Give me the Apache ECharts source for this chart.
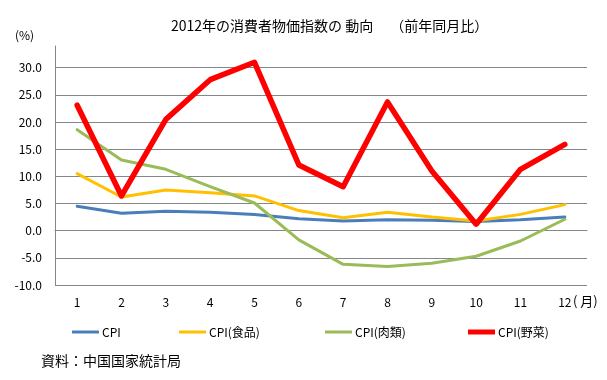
<!DOCTYPE html>
<html>
<head>
<meta charset="utf-8">
<script src="https://cdn.jsdelivr.net/npm/echarts@6/dist/echarts.min.js"></script>
<style>
html,body{margin:0;padding:0;background:#fff;}
#chart{width:607px;height:380px;}
</style>
</head>
<body>
<div id="chart"></div>
<script>
const months = ['1','2','3','4','5','6','7','8','9','10','11','12'];
const cpi      = [4.5, 3.2, 3.6, 3.4, 3.0, 2.2, 1.8, 2.0, 1.9, 1.7, 2.0, 2.5];
const cpiFood  = [10.5, 6.2, 7.5, 7.0, 6.4, 3.7, 2.4, 3.4, 2.5, 1.8, 3.0, 4.8];
const cpiMeat  = [18.6, 13.0, 11.3, 8.1, 5.1, -1.7, -6.2, -6.6, -6.0, -4.7, -1.9, 2.1];
const cpiVeg   = [23.1, 6.4, 20.5, 27.8, 31.0, 12.1, 8.1, 23.7, 11.0, 1.2, 11.3, 15.9];
const seriesNames = ['CPI', 'CPI(食品)', 'CPI(肉類)', 'CPI(野菜)'];
const yTicks = [-10, -5, 0, 5, 10, 15, 20, 25, 30];

const font = '"Noto Sans CJK JP", "Noto Sans", sans-serif';
const colors = ['#4a7ebb', '#ffc000', '#9bbb59', '#ff0000'];
const widths = [3, 3, 3, 5.5];
const dataSets = [cpi, cpiFood, cpiMeat, cpiVeg];
const legendLefts = [67, 174, 320, 463];

const chart = echarts.init(document.getElementById('chart'), null, {renderer: 'canvas'});
chart.setOption({
  animation: false,
  backgroundColor: '#fff',
  title: {
    text: '2012年の消費者物価指数の 動向　 （前年同月比）',
    left: 166, top: 14,
    textStyle: {fontFamily: font, fontSize: 14, fontWeight: 'normal', color: '#000'}
  },
  graphic: [
    {type: 'text', left: 15, top: 29, style: {text: '(%)', font: '12px ' + font, fill: '#000'}},
    {type: 'text', left: 573, top: 295, style: {text: '( 月)', font: '13px ' + font, fill: '#000'}},
    {type: 'text', left: 41, top: 354, style: {text: '資料：中国国家統計局', font: '14px ' + font, fill: '#000'}}
  ],
  legend: seriesNames.map((n, i) => ({
    data: [n],
    left: legendLefts[i],
    top: 321,
    icon: 'rect',
    itemWidth: 27,
    itemHeight: i === 3 ? 5 : 3,
    itemGap: 0,
    textStyle: {fontFamily: font, fontSize: 12, color: '#000', padding: [0, 0, 0, -2]}
  })),
  grid: {left: 55, right: 20, top: 46, bottom: 95, containLabel: false},
  xAxis: {
    type: 'category',
    data: months,
    boundaryGap: true,
    axisLine: {lineStyle: {color: '#868686', width: 1}},
    axisTick: {show: false},
    axisLabel: {fontFamily: font, fontSize: 12, color: '#000', margin: 11}
  },
  yAxis: {
    type: 'value',
    min: -10, max: 34, interval: 5,
    axisLine: {show: true, lineStyle: {color: '#868686', width: 1}},
    axisTick: {show: false},
    axisLabel: {
      fontFamily: font, fontSize: 12, color: '#000', margin: 13,
      showMaxLabel: false,
      formatter: v => (yTicks.indexOf(v) >= 0 ? v.toFixed(1) : '')
    },
    splitLine: {show: true, showMaxLine: false, lineStyle: {color: '#868686', width: 1}}
  },
  series: seriesNames.map((n, i) => ({
    name: n,
    type: 'line',
    data: dataSets[i],
    symbol: 'none',
    color: colors[i],
    lineStyle: {color: colors[i], width: widths[i], join: 'round', cap: 'round'},
    z: 2 + i
  }))
});
</script>
</body>
</html>
